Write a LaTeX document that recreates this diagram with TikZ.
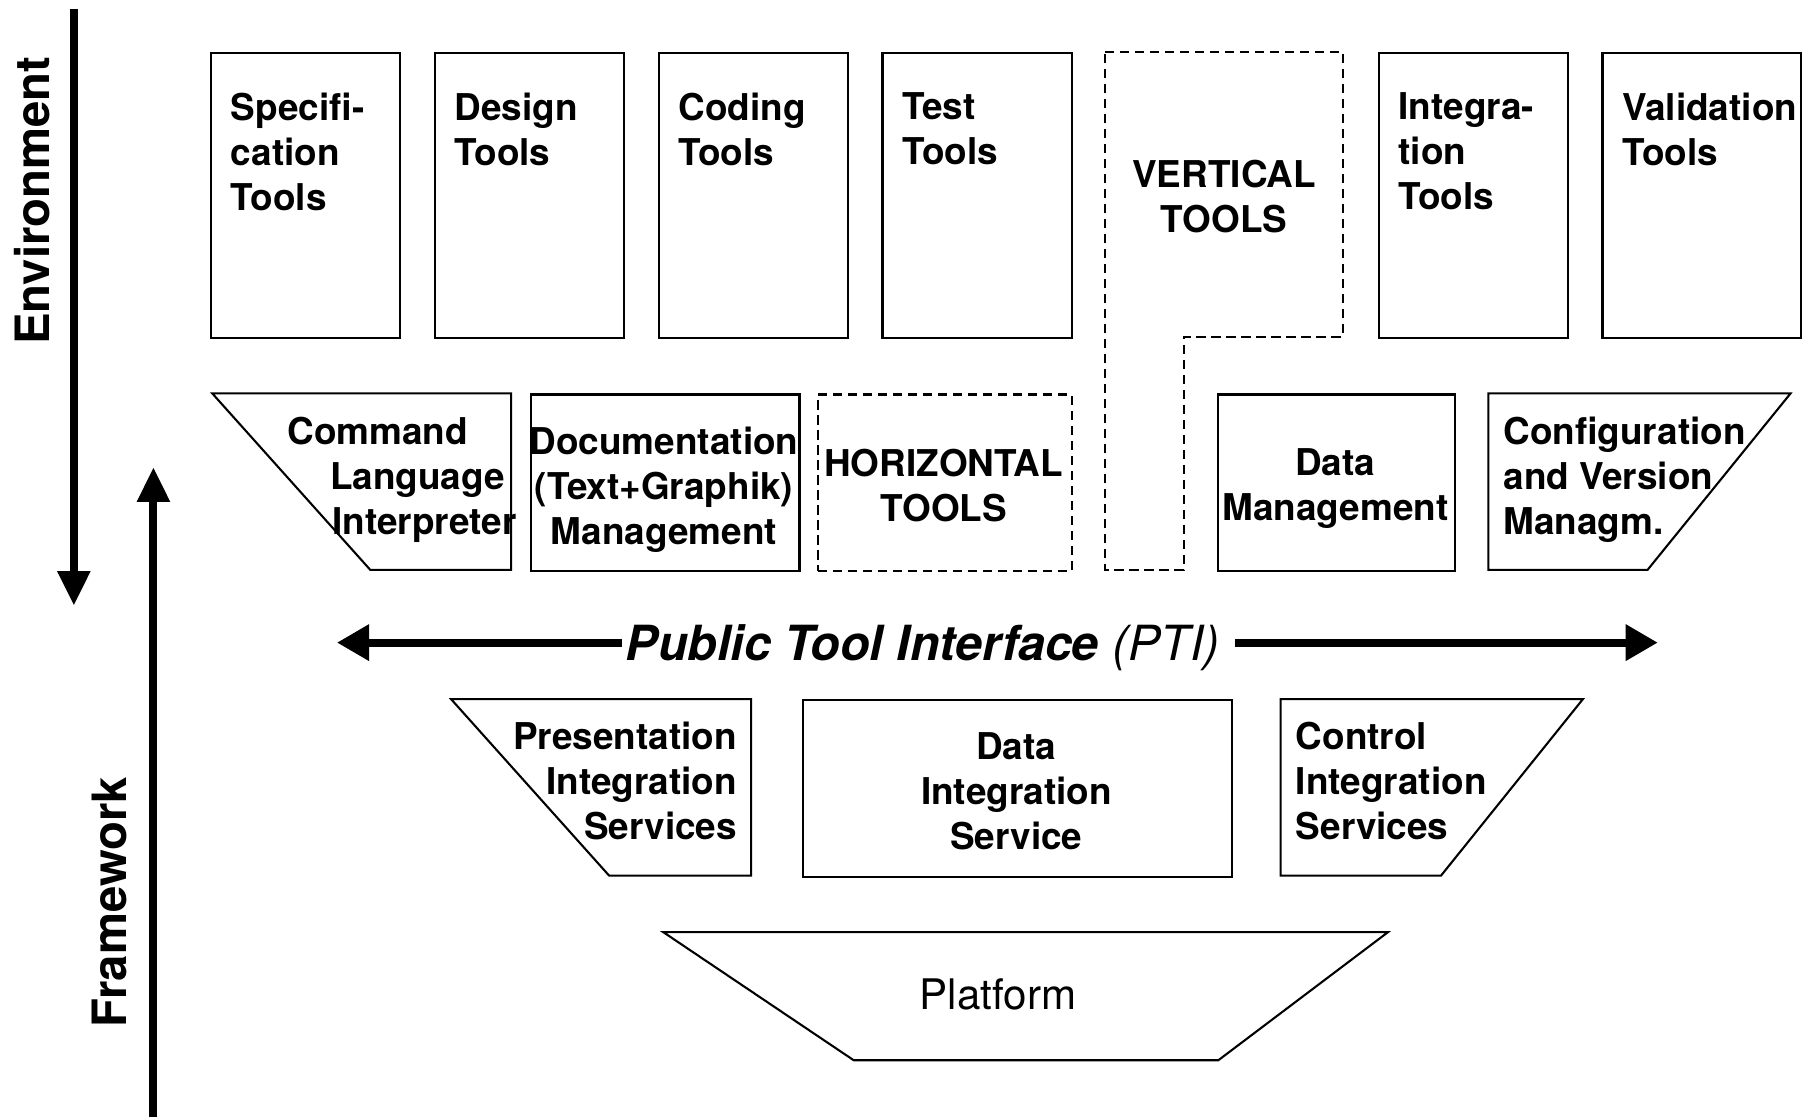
\documentclass[tikz,border=0pt]{standalone}
\usepackage{fontspec}
\setmainfont{TeX Gyre Heros}
\usetikzlibrary{arrows.meta}
\newcommand{\tallfirst}{\vphantom{Ifl}}
\begin{document}
\begin{tikzpicture}[x=1pt,y=-1pt,
  box/.style={draw, line width=2pt, inner sep=0pt, anchor=north west},
  dbox/.style={box, dash pattern=on 8pt off 5pt},
  tallbox/.style={box, minimum width=164pt, minimum height=247pt},
  midbox/.style={minimum height=153pt},
  trap/.style={draw, line width=1.8pt, line join=miter},
  dpath/.style={draw, line width=1.8pt, dash pattern=on 8pt off 5pt},
  txt/.style={inner sep=0pt, font=\fontsize{32}{39}\selectfont\bfseries},
  bigtxt/.style={inner sep=0pt, font=\fontsize{41}{49}\selectfont\bfseries},
  bigarrow/.style={line width=7pt, -{Triangle[length=28pt,width=30pt]}},
  axisarrow/.style={line width=7pt, -{Triangle[length=30pt,width=27pt]}}
]
\useasboundingbox (0,0) rectangle (1568,970);

% side arrows and labels
\coordinate (envtop) at (64,8);
\coordinate (envbot) at (64,525);
\coordinate (fwbot) at (133,968);
\coordinate (fwtop) at (133,405);
\draw[axisarrow] (envtop) -- (envbot);
\draw[axisarrow] (fwbot) -- (fwtop);
\node[bigtxt, rotate=90] (env) at (28,174) {Environment};
\node[bigtxt, rotate=90] (fw) at (95,782) {Framework};

% top row of tools
\node[tallbox] (spec) at (182,45) {};
\node[tallbox] (design) at (376,45) {};
\node[tallbox] (coding) at (570,45) {};
\node[tallbox] (test) at (764,45) {};
\node[tallbox] (integ) at (1194,45) {};
\node[box, minimum width=172pt, minimum height=247pt] (valid) at (1388,45) {};
\node[txt, anchor=north west, align=left] (spect) at (200,80) {\tallfirst Specifi-\\cation\\Tools};
\node[txt, anchor=north west, align=left] (designt) at (394,80) {\tallfirst Design\\Tools};
\node[txt, anchor=north west, align=left] (codingt) at (588,80) {\tallfirst Coding\\Tools};
\node[txt, anchor=north west, align=left] (testt) at (782,80) {\tallfirst Test\\Tools};
\node[txt, anchor=north west, align=left] (integt) at (1212,80) {\tallfirst Integra-\\tion\\Tools};
\node[txt, anchor=north west, align=left] (validt) at (1406,80) {\tallfirst Validation\\Tools};

% vertical tools (dashed L-shape)
\draw[dpath] (958,45) -- (1164,45) -- (1164,292) -- (1026,292) -- (1026,494) -- (958,494) -- cycle;
\node[txt, anchor=north, align=center] (vertt) at (1061,139) {VERTICAL\\TOOLS};

% second row
\draw[trap] (184,341) -- (443,341) -- (443,494) -- (321,494) -- cycle;
\node[txt, anchor=north west, align=left] (cmdt) at (249,361) {Command\\\hspace*{37pt}Language\\\hspace*{39pt}Interpreter};
\node[box, midbox, minimum width=233pt] (doc) at (459,341) {};
\node[txt, anchor=north, align=center] (doct) at (575.5,370) {Documentation\\(Text+Graphik)\\Management};
\node[dbox, midbox, minimum width=220pt] (horiz) at (708,341) {};
\node[txt, anchor=north, align=center] (horizt) at (818,389) {HORIZONTAL\\TOOLS};
\node[box, midbox, minimum width=205pt] (dm) at (1055,341) {};
\node[txt, anchor=north, align=center] (dmt) at (1157.5,389) {Data\\Management};
\draw[trap] (1290,341) -- (1552,341) -- (1428,494) -- (1290,494) -- cycle;
\node[txt, anchor=north west, align=left] (cfgt) at (1303,361) {Configuration\\and Version\\Managm.};

% public tool interface
\coordinate (ptiL) at (292,557);
\coordinate (ptiR) at (1437,557);
\node[inner sep=3pt, font=\fontsize{42}{50}\selectfont] (pti) at (800,561) {\bfseries\itshape Public Tool Interface \mdseries(PTI)};
\draw[bigarrow] (pti.west |- ptiL) -- (ptiL);
\draw[bigarrow] ([xshift=10pt]pti.east |- ptiR) -- (ptiR);

% integration services
\draw[trap] (391,606) -- (651,606) -- (651,759) -- (528,759) -- cycle;
\node[txt, anchor=north east, align=right] (prest) at (639,626) {Presentation\\Integration\\Services};
\node[box, midbox, minimum width=372pt] (dis) at (695,606) {};
\node[txt, anchor=north, align=center] (dist) at (881,635) {Data\\Integration\\Service};
\draw[trap] (1110,606) -- (1372,606) -- (1249,759) -- (1110,759) -- cycle;
\node[txt, anchor=north west, align=left] (ctrlt) at (1123,626) {Control\\Integration\\Services};

% platform
\draw[trap] (575,808) -- (1203,808) -- (1056,919) -- (740,919) -- cycle;
\node[inner sep=0pt, font=\fontsize{36.5}{44}\selectfont] (plat) at (865,862) {Platform};
\end{tikzpicture}
\end{document}
